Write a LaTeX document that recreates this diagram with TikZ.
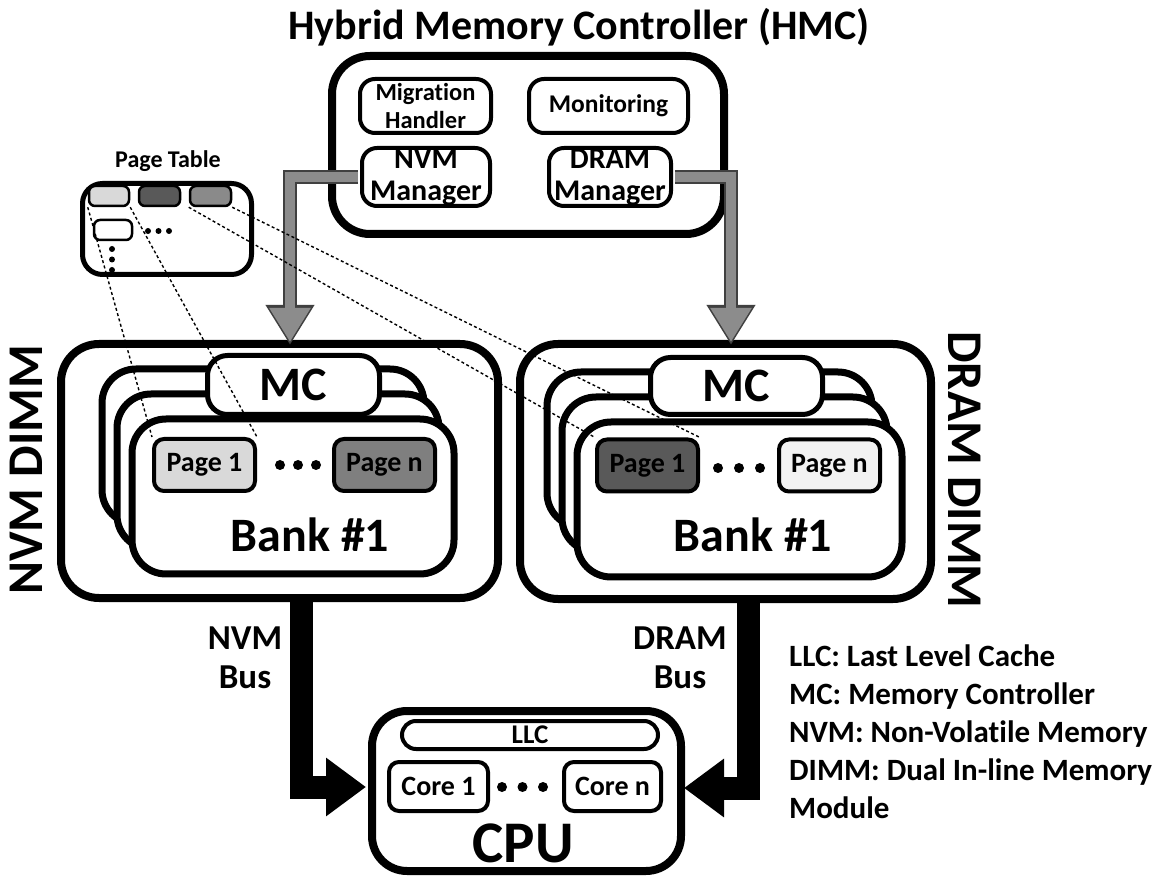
\documentclass[tikz,border=0pt]{standalone}
\usepackage{fontspec}
\setmainfont{Carlito}[Ligatures=NoCommon]
\usetikzlibrary{arrows.meta,calc}
\definecolor{pglight}{HTML}{D9D9D9}
\definecolor{pgmid}{HTML}{8A8A8A}
\definecolor{pgdark}{HTML}{595959}
\definecolor{pgnvmn}{HTML}{7F7F7F}
\definecolor{pgwhite}{HTML}{F2F2F2}
\definecolor{arrgray}{HTML}{8C8C8C}
\definecolor{arrdark}{HTML}{404040}
\newcommand{\ffs}[2]{\fontsize{#1}{#2}\selectfont\bfseries}
\tikzset{
  bigbox/.style={draw, line width=8pt, rounded corners=38pt, fill=white, inner sep=0pt},
  layerbox/.style={draw, line width=7pt, rounded corners=34pt, fill=white, inner sep=0pt},
  mcbox/.style={draw, line width=5pt, rounded corners=20pt, fill=white, inner sep=0pt, font=\ffs{48}{56}},
  hbox/.style={draw, line width=4pt, rounded corners=15pt, fill=white, inner sep=0pt, align=center},
  pagebox/.style={draw, line width=4pt, rounded corners=10pt, inner sep=0pt, minimum width=101pt, minimum height=52pt, font=\ffs{28}{32}},
  corebox/.style={draw, line width=4pt, rounded corners=10pt, fill=white, inner sep=0pt, minimum height=49pt, font=\ffs{28}{32}},
  ptbox/.style={draw, line width=2.5pt, rounded corners=6pt, inner sep=0pt, minimum height=20pt},
  conn/.style={line width=1.4pt, dash pattern=on 3pt off 2.5pt},
  grayout/.style={line width=14pt, draw=arrdark, line join=miter, -{Triangle[width=46pt,length=40pt]}},
  grayin/.style={line width=10pt, draw=arrgray, line join=miter, -{Triangle[width=39pt,length=34pt]}, shorten >=3pt},
  bus/.style={line width=23pt, draw=black, line join=miter, -{Triangle[width=56pt,length=40pt]}},
  dotmark/.style={fill=black},
}
\begin{document}
\begin{tikzpicture}[x=1pt,y=-1pt]
\fill[white] (0,0) rectangle (1163,882);
\useasboundingbox (0,0) rectangle (1163,882);

% title
\node[font=\ffs{42}{49}, inner sep=0pt] (title) at (579,27) {Hybrid Memory Controller (HMC)};

% HMC
\node[bigbox, minimum width=392pt, minimum height=178pt] (hmc) at (528,145) {};
\node[hbox, minimum width=131pt, minimum height=54pt, font=\ffs{24.5}{28}] (mig) at (425.5,106) {Migration\\Handler};
\node[hbox, minimum width=159pt, minimum height=54pt, font=\ffs{25.5}{28}] (mon) at (608.5,106) {Monitoring};
\node[hbox, minimum width=128pt, minimum height=58pt, font=\ffs{30}{32}] (nvmmgr) at (426,177) {NVM\\Manager};
\node[hbox, minimum width=122pt, minimum height=58pt, font=\ffs{30}{32}] (drammgr) at (610,177) {DRAM\\Manager};

% page table
\node[font=\ffs{24}{28}, inner sep=0pt] (ptlabel) at (168,161) {Page Table};
\node[draw, line width=5pt, rounded corners=20pt, fill=white, inner sep=0pt, minimum width=169pt, minimum height=91pt] (pt) at (167,229) {};
\node[ptbox, fill=pglight, minimum width=40pt] (ptl) at (109,196) {};
\node[ptbox, fill=pgdark, minimum width=41pt] (ptd) at (159.5,196) {};
\node[ptbox, fill=pgmid, minimum width=41pt] (ptm) at (210.5,196) {};
\node[ptbox, fill=white, minimum width=38pt] (ptw) at (113,230) {};
\fill[dotmark] (148,231) circle (3pt) (158.5,231) circle (3pt) (169,231) circle (3pt);
\fill[dotmark] (112,249) circle (3pt) (112,259.5) circle (3pt) (112,270) circle (3pt);

% NVM DIMM
\node[bigbox, minimum width=437pt, minimum height=254pt] (nvmdimm) at (279.5,471) {};
\node[layerbox, minimum width=322pt, minimum height=155pt] (nl3) at (263,446.5) {};
\node[layerbox, minimum width=322pt, minimum height=155pt] (nl2) at (278,471.5) {};
\node[layerbox, minimum width=322pt, minimum height=155pt] (nl1) at (293,496.5) {};
\node[mcbox, minimum width=172pt, minimum height=59pt] (nmc) at (293.5,385) {MC};
\node[pagebox, fill=pglight] (np1) at (204.5,465) {Page 1};
\node[pagebox, fill=pgnvmn] (npn) at (384.5,465) {Page n};
\fill[dotmark] (280,465) circle (5pt) (298,465) circle (5pt) (316,465) circle (5pt);
\node[font=\ffs{48}{56}, inner sep=0pt] (nbank) at (310,535) {Bank \#1};
\node[font=\ffs{50}{56}, inner sep=0pt, rotate=90] (nvmlabel) at (26,470) {NVM DIMM};

% DRAM DIMM
\node[bigbox, minimum width=411pt, minimum height=255pt] (dramdimm) at (725.5,471.5) {};
\node[layerbox, minimum width=325pt, minimum height=155pt] (dl3) at (709.5,449.5) {};
\node[layerbox, minimum width=325pt, minimum height=155pt] (dl2) at (724.5,474.5) {};
\node[layerbox, minimum width=325pt, minimum height=155pt] (dl1) at (739.5,499.5) {};
\node[mcbox, minimum width=172pt, minimum height=57pt] (dmc) at (736.5,386) {MC};
\node[pagebox, fill=pgdark] (dp1) at (647.5,465.5) {Page 1};
\node[pagebox, fill=pgwhite] (dpn) at (829.5,465.5) {Page n};
\fill[dotmark] (718,468) circle (5pt) (739,468) circle (5pt) (760,468) circle (5pt);
\node[font=\ffs{48}{56}, inner sep=0pt] (dbank) at (753,535) {Bank \#1};
\node[font=\ffs{50}{56}, inner sep=0pt, rotate=-90] (dramlabel) at (965,470) {DRAM DIMM};

% CPU
\node[bigbox, rounded corners=35pt, minimum width=309pt, minimum height=160pt] (cpu) at (526.5,791) {};
\node[draw, line width=4pt, rounded corners=14pt, fill=white, inner sep=0pt, minimum width=256pt, minimum height=28pt, font=\ffs{27}{30}] (llc) at (530,735) {LLC};
\node[corebox, minimum width=99pt] (core1) at (438.5,786.5) {Core 1};
\node[corebox, minimum width=97pt] (coren) at (612.5,786.5) {Core n};
\fill[dotmark] (502,787) circle (5pt) (522.5,787) circle (5pt) (543,787) circle (5pt);
\node[font=\ffs{59}{64}, inner sep=0pt] (cpulabel) at (523,843) {CPU};

% gray arrows HMC -> MC
\coordinate (ga1) at (290,345);
\coordinate (ga2) at (731,345);
\draw[grayout, shorten <=2pt] (nvmmgr.west) -| (ga1);
\draw[grayin, shorten <=2pt] (nvmmgr.west) -| (ga1);
\draw[grayout, shorten <=2pt] (drammgr.east) -| (ga2);
\draw[grayin, shorten <=2pt] (drammgr.east) -| (ga2);

% buses
\coordinate (nb) at (301,598);
\coordinate (nbe) at (366,787);
\coordinate (db) at (748,599);
\coordinate (dbe) at (684,788);
\draw[bus] (nb) |- (nbe);
\draw[bus] (db) |- (dbe);
\node[font=\ffs{35}{39}, align=center, inner sep=0pt] (nvmbus) at (245,658) {NVM\\Bus};
\node[font=\ffs{35}{39}, align=center, inner sep=0pt] (drambus) at (680,658) {DRAM\\Bus};

% dashed mapping lines
\draw[conn] (ptl.south west) -- (np1.north west);
\draw[conn] (ptl.south east) -- (np1.north east);
\draw[conn] (ptm.south west) -- (dp1.north west);
\draw[conn] (ptm.south east) -- (dp1.north east);

% legend
\node[font=\ffs{31}{37.8}, align=left, anchor=north west, inner sep=0pt] (legend) at (789,645) {LLC: Last Level Cache\\MC: Memory Controller\\NVM: Non-Volatile Memory\\DIMM: Dual In-line Memory\\Module};
\end{tikzpicture}
\end{document}
